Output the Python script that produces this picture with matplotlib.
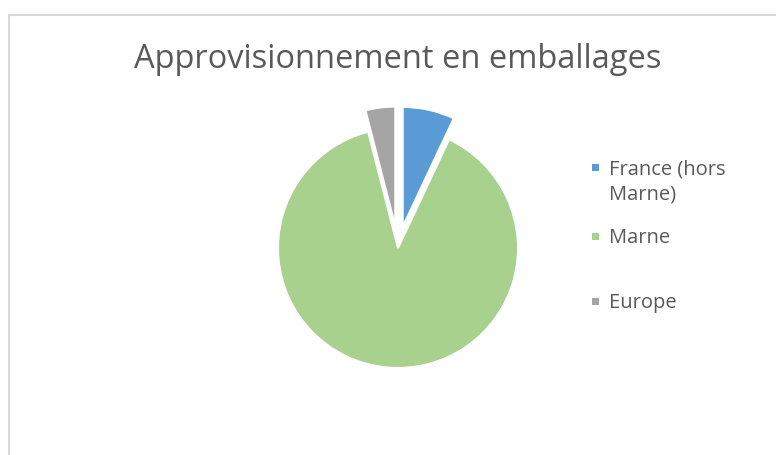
import matplotlib.pyplot as plt
from matplotlib.patches import Rectangle

categories = ["France (hors\nMarne)", "Marne", "Europe"]
values = [7, 89, 4]
colors = ["#5B9BD5", "#A9D18E", "#A5A5A5"]
explode = [0.18, 0.0, 0.18]

txt_color = "#595959"
plt.rcParams['font.family'] = ['Open Sans', 'DejaVu Sans']

fig = plt.figure(figsize=(7.76, 4.55), dpi=100)

# cadre du graphique (coupe a droite et en bas)
fig.patches.append(Rectangle((9 / 776, -0.05), 1.0, 1 - 15 / 455 + 0.05,
                             transform=fig.transFigure, fill=False,
                             edgecolor="#D9D9D9", linewidth=1.5))

ax = fig.add_axes([242 / 776, 51 / 455, 312 / 776, 312 / 455])
ax.pie(values, colors=colors, explode=explode, startangle=90,
       counterclock=False, radius=1.0,
       wedgeprops=dict(edgecolor="white", linewidth=1.5))
ax.set_xlim(-1.3, 1.3)
ax.set_ylim(-1.3, 1.3)
ax.set_aspect("equal")
ax.axis("off")

fig.text(398 / 776, 1 - 60 / 455, "Approvisionnement en emballages",
         ha="center", va="center", fontsize=23.5, color=txt_color)

# legende
leg_y = [167, 236, 301]
for lab, col, y in zip(categories, colors, leg_y):
    fig.patches.append(Rectangle((592 / 776, 1 - (y + 3.5) / 455), 7 / 776, 7 / 455,
                                 transform=fig.transFigure, facecolor=col,
                                 edgecolor="none"))
    fig.text(609 / 776, 1 - (y - 8) / 455, lab, ha="left", va="top",
             fontsize=14.5, color=txt_color, linespacing=1.35)

fig.savefig("out.png", dpi=100)
